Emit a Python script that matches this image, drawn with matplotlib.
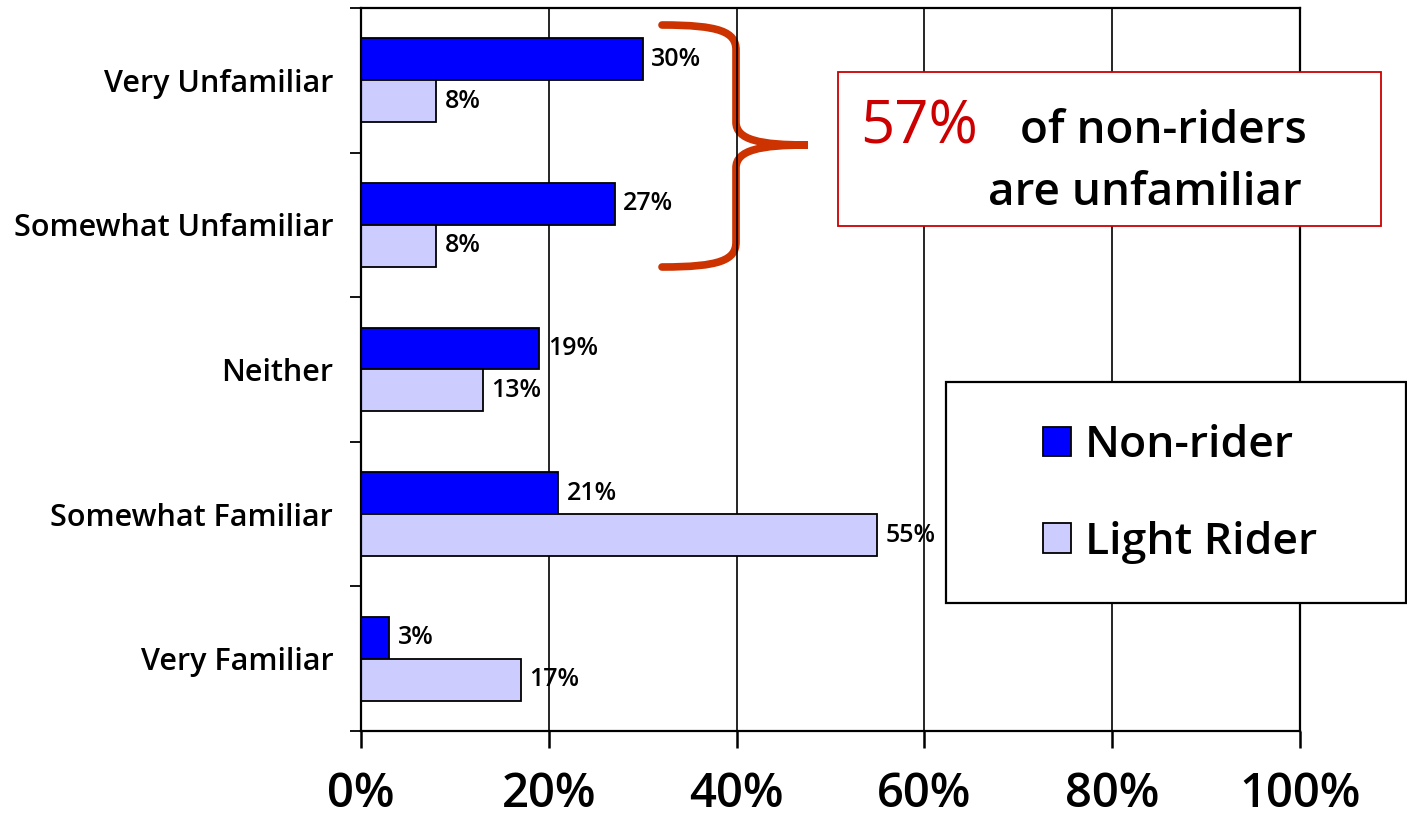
import matplotlib.pyplot as plt
from matplotlib.patches import Rectangle, PathPatch
from matplotlib.path import Path
from matplotlib.transforms import Affine2D
import numpy as np

plt.rcParams['font.family'] = ['Open Sans', 'DejaVu Sans']
plt.rcParams['font.weight'] = 'semibold'

categories = ['Very Unfamiliar', 'Somewhat Unfamiliar', 'Neither',
              'Somewhat Familiar', 'Very Familiar']
non_rider = [30, 27, 19, 21, 3]
light_rider = [8, 8, 13, 55, 17]
x_ticks = [0, 20, 40, 60, 80, 100]
x_tick_labels = ['0%', '20%', '40%', '60%', '80%', '100%']

W, H = 1407, 830
fig = plt.figure(figsize=(W / 100, H / 100), dpi=100)
ax = fig.add_axes([361 / W, 1 - 731 / H, (1300 - 361) / W, (731 - 8) / H])

# figure pixel coordinates, origin top-left
px = Affine2D().scale(1 / W, -1 / H).translate(0, 1) + fig.transFigure

y = np.arange(len(categories))
h = 0.29
b1 = ax.barh(y - h / 2, non_rider, height=h, color='#0000FF',
             edgecolor='black', linewidth=1.3, label='Non-rider', zorder=2)
b2 = ax.barh(y + h / 2, light_rider, height=h, color='#CCCCFF',
             edgecolor='black', linewidth=1.3, label='Light Rider', zorder=2)
ax.bar_label(b1, labels=[f'{v}%' for v in non_rider], padding=6, fontsize=18)
ax.bar_label(b2, labels=[f'{v}%' for v in light_rider], padding=6, fontsize=18)

ax.set_xlim(0, 100)
ax.set_ylim(len(categories) - 0.5, -0.5)
ax.set_xticks(x_ticks)
ax.set_xticklabels(x_tick_labels, fontsize=34)
ax.set_yticks(y)
ax.set_yticklabels(categories, fontsize=22)
ax.set_yticks(np.arange(len(categories) + 1) - 0.5, minor=True)
ax.tick_params(axis='y', which='major', length=0, pad=20)
ax.tick_params(axis='y', which='minor', length=8, width=1.3, direction='out')
ax.tick_params(axis='x', length=12, width=1.8, direction='out', pad=17)
ax.grid(axis='x', color='black', linewidth=1.2)
ax.set_axisbelow(True)
for s in ax.spines.values():
    s.set_linewidth(1.6)

# curly brace grouping the two "unfamiliar" rows
verts = [(662, 25), (720, 25), (736, 32), (736, 50),
         (736, 122),
         (736, 140), (760, 145), (808, 145),
         (760, 145), (736, 150), (736, 168),
         (736, 242),
         (736, 260), (720, 267), (662, 267)]
codes = [Path.MOVETO, Path.CURVE4, Path.CURVE4, Path.CURVE4,
         Path.LINETO,
         Path.CURVE4, Path.CURVE4, Path.CURVE4,
         Path.CURVE4, Path.CURVE4, Path.CURVE4,
         Path.LINETO,
         Path.CURVE4, Path.CURVE4, Path.CURVE4]
ax.add_patch(PathPatch(Path(verts, codes), transform=px, fill=False,
                       edgecolor='#CC3300', linewidth=5.5, capstyle='round',
                       zorder=0.3, clip_on=False))

# callout box
ax.add_patch(Rectangle((838, 72), 543, 154, transform=px, facecolor='white',
                       edgecolor='#CC0000', linewidth=1.3, zorder=5,
                       clip_on=False))
ax.text(860, 143, '57%', transform=px, color='#CC0000', fontsize=43,
        fontweight='normal', va='baseline', ha='left', zorder=6)
ax.text(1020, 143, 'of non-riders', transform=px, color='black',
        fontsize=33, va='baseline', ha='left', zorder=6)
ax.text(988, 205, 'are unfamiliar', transform=px, color='black',
        fontsize=33, va='baseline', ha='left', zorder=6)

# legend box
ax.add_patch(Rectangle((946, 382), 460, 221, transform=px, facecolor='white',
                       edgecolor='black', linewidth=1.6, zorder=5,
                       clip_on=False))
leg = ax.legend(loc='center', bbox_to_anchor=(1180 / W, 1 - 494 / H),
                bbox_transform=fig.transFigure, frameon=False, fontsize=32,
                handlelength=0.63, handleheight=0.63, handletextpad=0.3,
                labelspacing=1.2)
leg.set_zorder(6)

fig.savefig('out.png', dpi=100)
